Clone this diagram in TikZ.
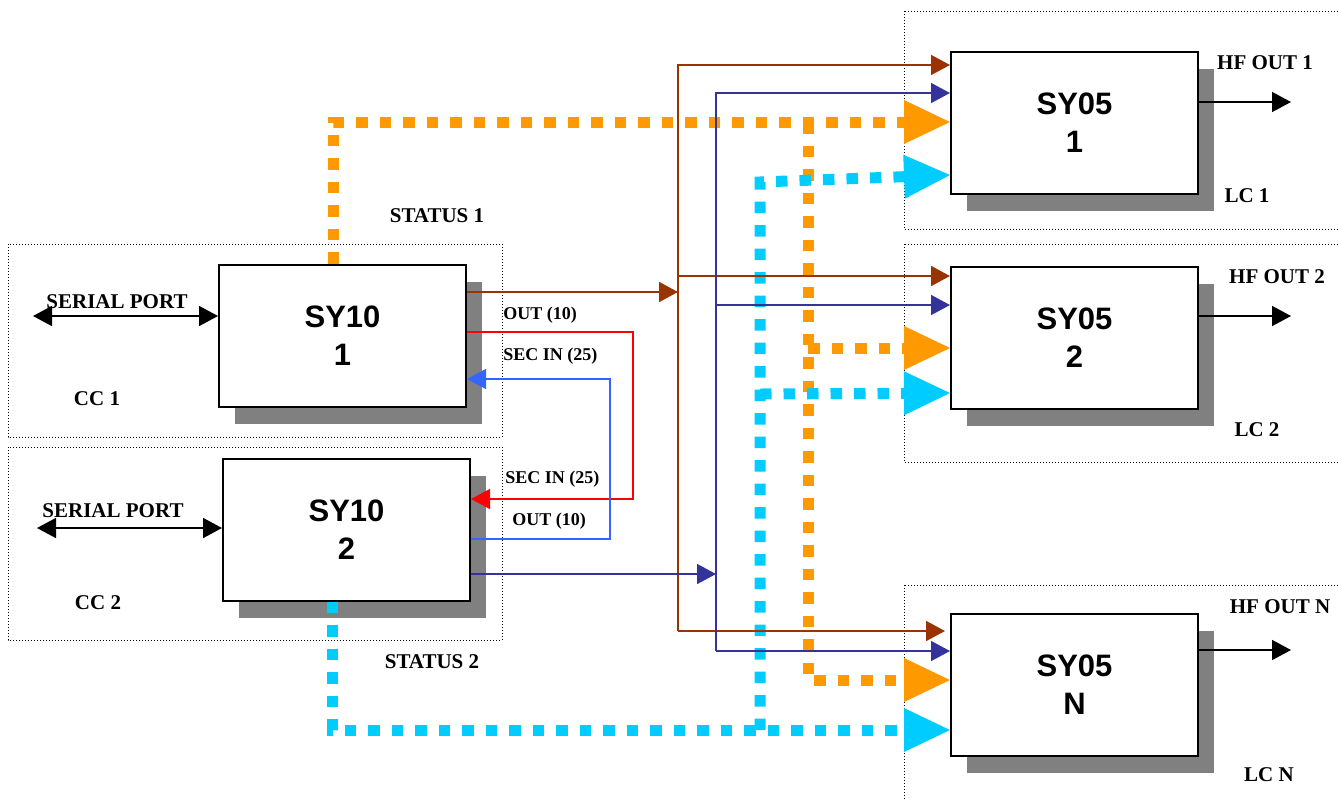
\documentclass[tikz,border=0pt]{standalone}
\usepackage{fontspec}
\setmainfont{Liberation Serif}
\setsansfont{Liberation Sans}
\usetikzlibrary{arrows.meta,positioning,shadows}
\definecolor{busbrown}{RGB}{153,51,0}
\definecolor{busnavy}{RGB}{51,51,153}
\definecolor{secred}{RGB}{255,0,0}
\definecolor{secblue}{RGB}{51,102,255}
\definecolor{statusorange}{RGB}{255,153,0}
\definecolor{statuscyan}{RGB}{0,204,255}
\definecolor{shadowgray}{RGB}{128,128,128}
\newcommand{\unitbox}[2]{%
  \node[draw=black, line width=1pt, fill=white, minimum width=123.5pt,
        minimum height=71pt, align=center,
        font=\fontsize{15.5}{19}\selectfont\sffamily\bfseries,
        drop shadow={shadow xshift=8pt, shadow yshift=-8.5pt,
                     fill=shadowgray, opacity=1}, #2] (#1) }

\begin{document}
\begin{tikzpicture}[x=0.5pt, y=-0.5pt,
  zone/.style={densely dotted, line width=0.5pt},
  sig/.style={line width=0.8pt, -{Triangle[length=9.5pt,width=10pt]}},
  duplex/.style={line width=0.8pt, {Triangle[length=9.5pt,width=10pt]}-{Triangle[length=9.5pt,width=10pt]}},
  statusdots/.style={line width=5.5pt, dash pattern=on 5.75pt off 6pt,
                     -{Triangle[length=23pt,width=22pt,line width=0pt]}},
  lbl/.style={inner sep=0pt, font=\fontsize{10.5}{12}\selectfont\bfseries},
  smalllbl/.style={inner sep=0pt, anchor=west, font=\fontsize{9}{11}\selectfont\bfseries}]

\useasboundingbox (0,0) rectangle (1338,800);

\draw[zone] (8,244) rectangle (502,437);
\draw[zone] (8,447) rectangle (502,640);
\draw[zone] (904,11) rectangle (1350,229);
\draw[zone] (904,244) rectangle (1350,462);
\draw[zone] (904,585) rectangle (1350,815);

\unitbox{SY10a}{at={(342.5,335.5)}}{SY10\\1};
\unitbox{SY10b}{below=25pt of SY10a, xshift=2pt}{SY10\\2};
\unitbox{SY05a}{at={(1074.5,122.5)}}{SY05\\1};
\unitbox{SY05b}{below=35.5pt of SY05a}{SY05\\2};
\unitbox{SY05n}{below=101.5pt of SY05b}{SY05\\N};

\coordinate (brTop) at (678,65);
\coordinate (brBot) at (678,631);
\coordinate (nvTop) at (716,93);
\coordinate (nvBot) at (716,651);
\coordinate (orCorner) at (333,122);
\coordinate (orTop) at (808,122);
\coordinate (orBot) at (808,680);
\coordinate (cyCorner) at (332,730);
\coordinate (cyTop) at (760,182);
\coordinate (cyBot) at (760,730);
\coordinate (sp1) at (33,316);
\coordinate (sp2) at (37,528);
\coordinate (hf1) at (1291,102);
\coordinate (hf2) at (1291,316);
\coordinate (hfn) at (1291,650);

\draw[statusdots, statusorange] (SY10a.north -| orCorner) |- (SY05a.west |- orCorner);
\draw[statusdots, statusorange] (orTop |- 0,348) -- (SY05b.west |- 0,348);
\draw[statusdots, statusorange] (orTop) -- (orBot) -- (SY05n.west |- orBot);

\draw[statusdots, statuscyan] (SY10b.south -| cyCorner) |- (SY05n.west |- cyCorner);
\draw[statusdots, statuscyan] (cyBot) -- (cyTop) -- (SY05a.west |- 0,175);
\draw[statusdots, statuscyan] (cyTop |- 0,394) -- (SY05b.west |- 0,393);

\draw[sig, busbrown] (SY10a.east |- 0,292) -- (brTop |- 0,292);
\draw[sig, busbrown] (brBot) -- (brTop) -- (SY05a.west |- brTop);
\draw[sig, busbrown] (brTop |- 0,276) -- (SY05b.west |- 0,276);
\draw[sig, busbrown] (brBot) -- ([xshift=-2.5pt]SY05n.west |- brBot);

\draw[sig, busnavy] (SY10b.east |- 0,574) -- (nvBot |- 0,574);
\draw[sig, busnavy] (nvBot) -- (nvTop) -- (SY05a.west |- nvTop);
\draw[sig, busnavy] (nvTop |- 0,305) -- (SY05b.west |- 0,305);
\draw[sig, busnavy] (nvBot) -- (SY05n.west |- nvBot);

\draw[sig, secred] (SY10a.east |- 0,332) -- (633,332) |- (SY10b.east |- 0,499);
\draw[sig, secblue] (SY10b.east |- 0,539) -- (610,539) |- (SY10a.east |- 0,379);

\draw[duplex] (sp1) -- (SY10a.west |- sp1);
\draw[duplex] (sp2) -- (SY10b.west |- sp2);

\draw[sig] (SY05a.east |- hf1) -- (hf1);
\draw[sig] (SY05b.east |- hf2) -- (hf2);
\draw[sig] (SY05n.east |- hfn) -- (hfn);

\node[lbl] (status1) at (437,216) {STATUS 1};
\node[lbl] (status2) at (432,662) {STATUS 2};
\node[lbl] (serial1) at (117,302) {SERIAL PORT};
\node[lbl] (serial2) at (113,511) {SERIAL PORT};
\node[lbl] (cc1) at (97,399) {CC 1};
\node[lbl] (cc2) at (98,603) {CC 2};
\node[smalllbl] (out1) at (503,315) {OUT (10)};
\node[smalllbl] (secin1) at (503,356) {SEC IN (25)};
\node[smalllbl] (secin2) at (505,479) {SEC IN (25)};
\node[smalllbl] (out2) at (512,521) {OUT (10)};
\node[lbl] (hfout1) at (1265,63) {HF OUT 1};
\node[lbl] (hfout2) at (1277,277) {HF OUT 2};
\node[lbl] (hfoutn) at (1280,607) {HF OUT N};
\node[lbl] (lc1) at (1247,196) {LC 1};
\node[lbl] (lc2) at (1257,430) {LC 2};
\node[lbl] (lcn) at (1269,775) {LC N};

\end{tikzpicture}
\end{document}
